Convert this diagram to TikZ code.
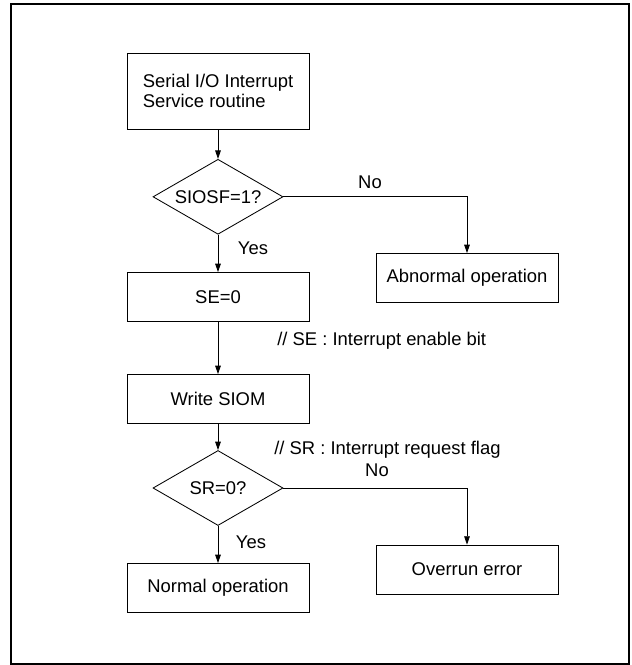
\documentclass[tikz,border=0pt]{standalone}
\usepackage{fontspec}
\setmainfont{Liberation Sans}
\usepackage{tikz}
\usetikzlibrary{positioning,arrows.meta,shapes.geometric}

\begin{document}
\begin{tikzpicture}[
    every node/.style={font=\fontsize{13.1}{14.4}\selectfont},
    procbox/.style={draw, line width=0.6pt, minimum width=4.55cm, minimum height=1.225cm, inner sep=0pt},
    decide/.style={draw, diamond, aspect=1.73, line width=0.6pt, minimum width=3.25cm, minimum height=1.875cm, inner sep=0pt},
    flow/.style={line width=0.6pt, -{Triangle[length=2.1mm,width=1.4mm]}},
    note/.style={anchor=west, inner sep=0pt}]
      \useasboundingbox (0,0) rectangle (15.8,-16.625);
      \draw[line width=1.4pt] (0.275,-0.1) rectangle (15.73,-16.59);
      % main column
      \node[procbox, minimum height=1.9cm, align=left] (isr) at (5.45,-2.275) {Serial I/O Interrupt\\Service routine};
      \node[decide] (sf) at (5.45,-4.92) {SIOSF=1?};
      \node[procbox] (se) at (5.45,-7.425) {SE=0};
      \node[procbox] (siom) at (5.45,-9.975) {Write SIOM};
      \node[decide] (sr) at (5.45,-12.2) {SR=0?};
      \node[procbox] (norm) at (5.45,-14.7) {Normal operation};
      % error branches
      \node[procbox] (abn) at (11.675,-6.95) {Abnormal operation};
      \node[procbox] (ovr) at (11.675,-14.24) {Overrun error};
      % labels
      \node (yes1) at (6.325,-6.2) {Yes};
      \node (no1) at (9.25,-4.55) {No};
      \node (yes2) at (6.275,-13.55) {Yes};
      \node (no2) at (9.425,-11.75) {No};
      \node[note] (senote) at (6.925,-8.51) {// SE : Interrupt enable bit};
      \node[note] (srnote) at (6.85,-11.24) {// SR : Interrupt request flag};
      \draw[flow] (isr) -- (sf);
      \draw[flow] (sf) -- (se);
      \draw[flow] (se) -- (siom);
      \draw[flow] (siom) -- (sr);
      \draw[flow] (sr) -- (norm);
      \draw[flow] (sf.east) -| (abn.north);
      \draw[flow] (sr.east) -| (ovr.north);
\end{tikzpicture}
\end{document}
